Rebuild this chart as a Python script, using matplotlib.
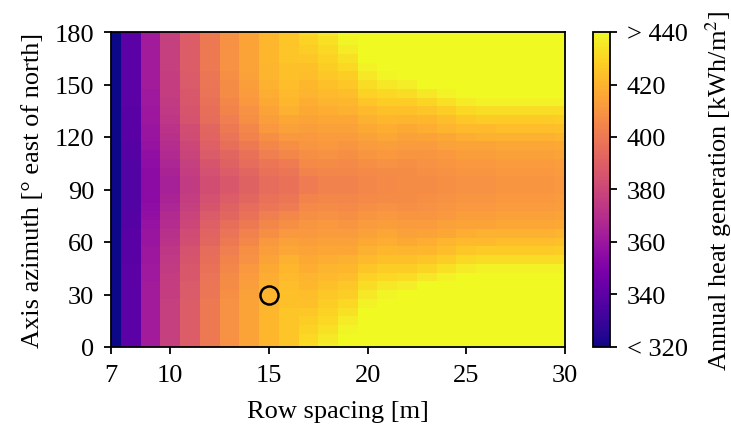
import numpy as np
import matplotlib
matplotlib.use("Agg")
import matplotlib.pyplot as plt

plt.rcParams["font.family"] = ["Liberation Serif", "DejaVu Serif"]
plt.rcParams["mathtext.fontset"] = "stix"
plt.rcParams["font.size"] = 19

# row spacing [m] and axis azimuth [deg]
row_spacing = list(range(7, 31))
azimuth = list(range(0, 181, 5))

# annual heat generation [kWh/m2], one list per row spacing, azimuth 0..180
heat_by_spacing = [
    [320,320,320,320,320,320,320,320,320,320,320,319,319,319,319,319,318,318,318,
     318,318,318,319,319,319,319,319,320,320,320,320,320,320,320,320,320,320],
    [340,340,340,340,340,340,340,340,340,340,339,339,339,339,338,338,337,337,337,
     337,337,337,338,338,339,339,339,339,340,340,340,340,340,340,340,340,340],
    [362,362,362,362,362,362,362,362,361,361,360,360,359,359,358,357,356,355,355,
     355,355,356,357,358,359,359,360,360,361,361,362,362,362,362,362,362,362],
    [377,377,377,377,377,377,376,376,376,375,374,373,372,371,369,368,366,365,364,
     364,365,366,368,369,371,372,373,374,375,376,376,376,377,377,377,377,377],
    [389,389,389,389,389,389,388,388,387,387,386,385,383,382,380,379,377,376,375,
     375,376,377,379,380,382,383,385,386,387,387,388,388,389,389,389,389,389],
    [400,400,400,400,400,400,399,399,398,397,396,395,393,392,390,388,386,384,383,
     383,384,386,388,390,392,393,395,396,397,398,399,399,400,400,400,400,400],
    [409,409,409,409,409,409,408,407,407,405,404,402,400,398,396,393,391,389,387,
     387,389,391,393,396,398,400,402,404,405,407,407,408,409,409,409,409,409],
    [415,415,415,415,415,415,414,413,412,411,409,408,405,403,400,397,395,393,391,
     391,393,395,397,400,403,405,408,409,411,412,413,414,415,415,415,415,415],
    [421,421,421,421,421,420,420,419,418,417,415,413,411,408,405,402,399,397,395,
     395,397,399,402,405,408,411,413,415,417,418,419,420,420,421,421,421,421],
    [425,425,425,425,425,424,424,423,422,421,419,416,414,411,408,405,401,399,397,
     397,399,401,405,408,411,414,416,419,421,422,423,424,424,425,425,425,425],
    [432,431,429,428,426,424,423,421,420,418,417,415,413,411,410,408,406,404,401,
     401,404,406,408,410,411,413,415,417,418,420,421,423,424,426,428,429,431],
    [437,435,433,431,429,428,426,424,422,420,418,416,414,412,411,409,407,405,403,
     403,405,407,409,411,412,414,416,418,420,422,424,426,428,429,431,433,435],
    [444,441,439,436,433,431,428,426,423,421,419,416,414,412,410,408,406,405,403,
     403,405,406,408,410,412,414,416,419,421,423,426,428,431,433,436,439,441],
    [456,452,448,444,441,438,435,432,429,425,422,419,417,414,412,410,408,406,405,
     405,406,408,410,412,414,417,419,422,425,429,432,435,438,441,444,448,452],
    [465,460,456,451,447,443,439,435,431,428,424,421,418,416,413,411,409,407,406,
     406,407,409,411,413,416,418,421,424,428,431,435,439,443,447,451,456,460],
    [485,477,469,462,455,449,443,437,432,428,424,420,417,414,412,410,408,407,407,
     407,407,408,410,412,414,417,420,424,428,432,437,443,449,455,462,469,477],
    [494,485,476,468,460,453,447,441,435,430,425,421,418,415,412,410,409,408,407,
     407,408,409,410,412,415,418,421,425,430,435,441,447,453,460,468,476,485],
    [502,492,483,474,466,458,451,444,438,433,428,423,420,416,414,411,410,409,408,
     408,409,410,411,414,416,420,423,428,433,438,444,451,458,466,474,483,492],
    [511,500,490,481,472,463,456,448,442,436,431,426,422,418,415,413,411,410,409,
     409,410,411,413,415,418,422,426,431,436,442,448,456,463,472,481,490,500],
    [517,506,495,485,476,467,458,451,444,438,432,427,422,419,415,413,411,410,409,
     409,410,411,413,415,419,422,427,432,438,444,451,458,467,476,485,495,506],
    [515,504,493,484,474,466,458,451,444,438,432,427,423,419,416,414,412,411,410,
     410,411,412,414,416,419,423,427,432,438,444,451,458,466,474,484,493,504],
    [515,504,493,484,474,466,458,451,444,438,432,427,423,419,416,414,412,411,410,
     410,411,412,414,416,419,423,427,432,438,444,451,458,466,474,484,493,504],
    [515,504,493,484,474,466,458,451,444,438,432,427,423,419,416,414,412,411,410,
     410,411,412,414,416,419,423,427,432,438,444,451,458,466,474,484,493,504],
    [512,502,492,482,473,465,457,450,444,438,432,428,424,420,417,415,413,412,411,
     411,412,413,415,417,420,424,428,432,438,444,450,457,465,473,482,492,502],
]

chosen_spacing = 15
chosen_azimuth = 30

cb_ticks = [320, 340, 360, 380, 400, 420, 440]
cb_labels = ["< 320", "340", "360", "380", "400", "420", "> 440"]
x_ticks = [7, 10, 15, 20, 25, 30]
y_ticks = [0, 30, 60, 90, 120, 150, 180]

Z = np.array(heat_by_spacing).T

fig = plt.figure(figsize=(7.31, 4.27), dpi=100)
ax = fig.add_axes([111/731, 79/427, 454/731, 315/427])
cax = fig.add_axes([593/731, 79/427, 17/731, 315/427])

m = ax.pcolormesh(row_spacing, azimuth, Z, cmap="plasma", vmin=320, vmax=440,
                  shading="nearest")
ax.plot(chosen_spacing, chosen_azimuth, "o", mfc="none", mec="k", ms=13, mew=1.8)

ax.set_xlim(7, 30)
ax.set_ylim(0, 180)
ax.set_xticks(x_ticks)
ax.set_yticks(y_ticks)
ax.set_xlabel("Row spacing [m]", labelpad=10)
ax.set_ylabel("Axis azimuth [° east of north]", labelpad=8)
for s in ax.spines.values():
    s.set_linewidth(1.3)
ax.tick_params(width=1.3, length=5, pad=7)

cbar = fig.colorbar(m, cax=cax)
cbar.set_ticks(cb_ticks)
cbar.set_ticklabels(cb_labels)
cbar.outline.set_linewidth(1.3)
cbar.ax.tick_params(width=1.3, length=5, pad=7)
cbar.set_label("Annual heat generation [kWh/m$^2$]", labelpad=11)

fig.savefig("out.png", dpi=100)
plt.close()
